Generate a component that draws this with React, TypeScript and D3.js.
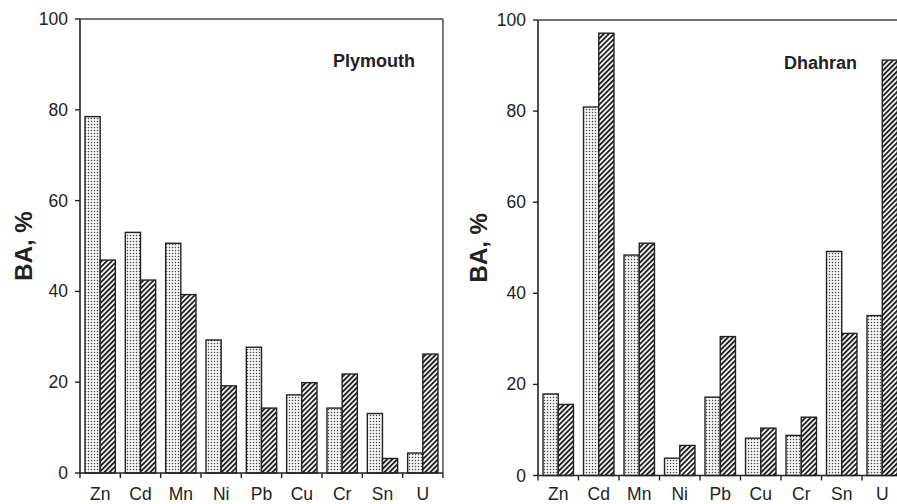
import React from "react";
import * as d3 from "d3";

const elements = ["Zn", "Cd", "Mn", "Ni", "Pb", "Cu", "Cr", "Sn", "U"];
const plymouthA = [78.5, 53.0, 50.6, 29.3, 27.7, 17.2, 14.3, 13.1, 4.4];
const plymouthB = [46.9, 42.5, 39.3, 19.2, 14.3, 19.9, 21.8, 3.2, 26.2];
const dhahranA = [17.9, 80.9, 48.4, 3.8, 17.2, 8.2, 8.8, 49.2, 35.1];
const dhahranB = [15.6, 97.1, 51.0, 6.6, 30.5, 10.4, 12.8, 31.2, 91.2];
const yTicks = [0, 20, 40, 60, 80, 100];

type PanelProps = {
  title: string;
  a: number[];
  b: number[];
  x0: number;
  step: number;
  top: number;
  bottom: number;
  titleX: number;
  titleY: number;
  labelX: number;
  drawRight: boolean;
};

function Panel(p: PanelProps) {
  const x1 = p.x0 + p.step * elements.length;
  const x = d3
    .scaleBand<string>()
    .domain(elements)
    .range([p.x0, x1])
    .paddingInner(0.248)
    .paddingOuter(0.124);
  const sub = d3.scaleBand<string>().domain(["a", "b"]).range([0, x.bandwidth()]);
  const y = d3.scaleLinear().domain([0, 100]).range([p.bottom, p.top]);
  const font = "'Liberation Sans', Arial, Helvetica, sans-serif";
  const stroke = "#222";
  const boundaries = d3.range(elements.length + 1).map((i) => p.x0 + i * p.step);
  return (
    <g>
      {elements.map((el, i) => (
        <g key={el}>
          <rect
            x={x(el)! + sub("a")!}
            y={y(p.a[i])}
            width={sub.bandwidth()}
            height={y(0) - y(p.a[i])}
            fill="url(#dots)"
            stroke={stroke}
            strokeWidth={1.4}
          />
          <rect
            x={x(el)! + sub("b")!}
            y={y(p.b[i])}
            width={sub.bandwidth()}
            height={y(0) - y(p.b[i])}
            fill="url(#hatch)"
            stroke={stroke}
            strokeWidth={1.4}
          />
        </g>
      ))}
      <line x1={p.x0} x2={p.x0} y1={p.top} y2={p.bottom} stroke={stroke} strokeWidth={1.6} />
      <line x1={p.x0} x2={x1} y1={p.top} y2={p.top} stroke="#444" strokeWidth={1.4} />
      <line x1={p.x0} x2={x1} y1={p.bottom} y2={p.bottom} stroke={stroke} strokeWidth={1.6} />
      {p.drawRight && (
        <line x1={x1} x2={x1} y1={p.top} y2={p.bottom} stroke="#444" strokeWidth={1.4} />
      )}
      {yTicks.map((t) => (
        <g key={t}>
          <line x1={p.x0 - 5} x2={p.x0} y1={y(t)} y2={y(t)} stroke={stroke} strokeWidth={1.4} />
          <text
            x={p.x0 - 12}
            y={y(t) + 6}
            textAnchor="end"
            fontFamily={font}
            fontSize={17.5}
            fill="#222"
          >
            {t}
          </text>
        </g>
      ))}
      {boundaries.map((bx, i) => (
        <line key={i} x1={bx} x2={bx} y1={p.bottom} y2={p.bottom + 5} stroke={stroke} strokeWidth={1.4} />
      ))}
      {elements.map((el) => (
        <text
          key={el}
          x={x(el)! + x.bandwidth() / 2}
          y={499.5}
          textAnchor="middle"
          fontFamily={font}
          fontSize={17.5}
          fill="#222"
        >
          {el}
        </text>
      ))}
      <text
        x={p.titleX}
        y={p.titleY}
        fontFamily={font}
        fontSize={18}
        fontWeight="bold"
        fill="#222"
      >
        {p.title}
      </text>
      <text
        transform={`translate(${p.labelX},${(p.top + p.bottom) / 2}) rotate(-90)`}
        textAnchor="middle"
        fontFamily={font}
        fontSize={24}
        fontWeight="bold"
        fill="#222"
      >
        BA, %
      </text>
    </g>
  );
}

export default function App() {
  return (
    <svg
      width={897}
      height={504}
      style={{ position: "absolute", left: 0, top: 0, background: "#fff" }}
    >
      <defs>
        <pattern id="dots" patternUnits="userSpaceOnUse" width={3} height={3}>
          <rect width={3} height={3} fill="#fff" />
          <rect x={0.8} y={0.8} width={1.4} height={1.4} fill="#444" />
        </pattern>
        <pattern
          id="hatch"
          patternUnits="userSpaceOnUse"
          width={3.6}
          height={3.6}
          patternTransform="rotate(45)"
        >
          <rect width={3.6} height={3.6} fill="#fff" />
          <rect x={0} y={0} width={1.9} height={3.6} fill="#222" />
        </pattern>
      </defs>
      <Panel
        title="Plymouth"
        a={plymouthA}
        b={plymouthB}
        x0={80}
        step={40.33}
        top={19}
        bottom={473}
        titleX={333}
        titleY={67}
        labelX={32}
        drawRight={true}
      />
      <Panel
        title="Dhahran"
        a={dhahranA}
        b={dhahranB}
        x0={538}
        step={40.5}
        top={20}
        bottom={475.5}
        titleX={784}
        titleY={69}
        labelX={487}
        drawRight={false}
      />
    </svg>
  );
}
